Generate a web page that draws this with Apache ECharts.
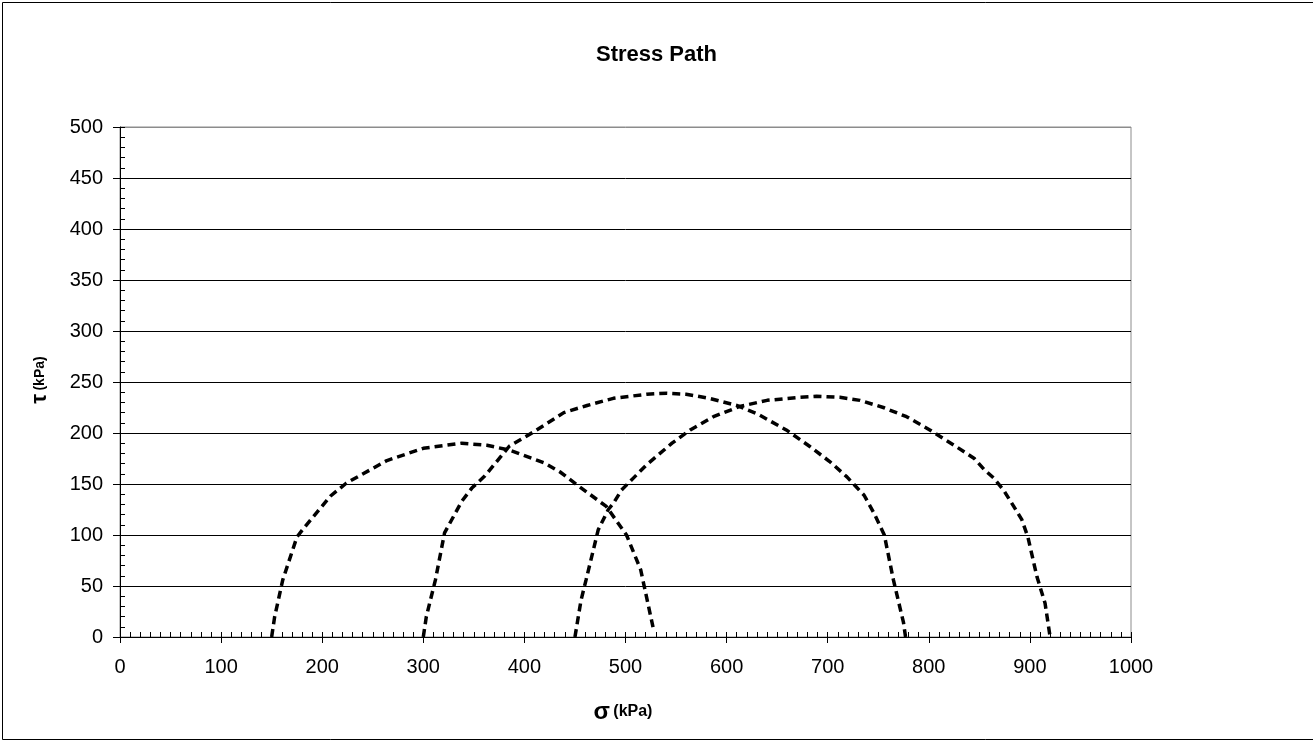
<!DOCTYPE html>
<html>
<head>
<meta charset="utf-8">
<script src="https://cdn.jsdelivr.net/npm/echarts@6/dist/echarts.min.js"></script>
<style>
html,body{margin:0;padding:0;background:#fff;}
#chart{width:1313px;height:740px;}
</style>
</head>
<body>
<div id="chart"></div>
<script>
// ---- data ----
const titleText = 'Stress Path';
const xTicks = [0, 100, 200, 300, 400, 500, 600, 700, 800, 900, 1000];
const yTicks = [0, 50, 100, 150, 200, 250, 300, 350, 400, 450, 500];

const circle1 = [[150,0],[153,20],[161,56],[175,98],[182,107],[208,138],[224,151],[264,173],[300,185],[338,190],[363,188],[386,183],[419,171],[435,162],[455,147],[481,128],[501,100],[515,66],[528,6]];
const circle2 = [[300,0],[303,20],[312,56],[321,102],[338,133],[348,146],[361,158],[385,187],[409,201],[439,220],[462,227],[488,234],[521,238],[541,239],[560,238],[583,234],[610,227],[630,219],[659,203],[682,187],[702,172],[719,157],[736,139],[746,121],[756,100],[765,56],[775,14],[777,0]];
const circle3 = [[450,0],[456,36],[461,56],[473,105],[483,125],[488,131],[496,144],[508,156],[521,169],[546,190],[564,203],[587,216],[613,226],[640,232],[672,235],[689,236],[712,235],[732,232],[755,225],[778,216],[801,203],[825,188],[845,175],[855,164],[864,156],[874,144],[884,128],[892,115],[898,98],[907,59],[915,33],[920,0]];

const FONT = '"Liberation Sans", Arial, sans-serif';
const chart = echarts.init(document.getElementById('chart'), null, {renderer: 'canvas'});

const splitColors = yTicks.map((v, i) => i === yTicks.length - 1 ? '#8c8c8c' : '#000');

function lineSeries(data) {
  return {
    type: 'line', data: data, xAxisIndex: 0, yAxisIndex: 0,
    showSymbol: false, symbol: 'none', smooth: false, silent: true,
    lineStyle: {color: '#000', width: 3.5, type: [8, 5], cap: 'butt'}
  };
}

chart.setOption({
  backgroundColor: '#fff',
  animation: false,
  title: {
    text: titleText, left: 'center', top: 39,
    textStyle: {fontFamily: FONT, fontSize: 22, fontWeight: 'bold', color: '#000'}
  },
  grid: {left: 120, right: 182, top: 127, bottom: 103, show: true, borderColor: '#8c8c8c', borderWidth: 1, backgroundColor: 'transparent'},
  xAxis: [{
    type: 'value', min: xTicks[0], max: xTicks[xTicks.length - 1], interval: 100,
    axisLine: {show: true, onZero: false, lineStyle: {color: '#000', width: 1}},
    axisTick: {show: true, inside: false, length: 6, lineStyle: {color: '#000'}},
    axisLabel: {fontFamily: FONT, fontSize: 20, color: '#000', margin: 20, formatter: v => String(v)},
    splitLine: {show: false}
  }, {
    type: 'value', min: xTicks[0], max: xTicks[xTicks.length - 1], interval: 10, position: 'bottom',
    axisLine: {show: false, onZero: false},
    axisTick: {show: true, inside: true, length: 5, lineStyle: {color: '#000'}},
    axisLabel: {show: false}, splitLine: {show: false}
  }],
  yAxis: [{
    type: 'value', min: yTicks[0], max: yTicks[yTicks.length - 1], interval: 50,
    axisLine: {show: true, onZero: false, lineStyle: {color: '#000', width: 1}},
    axisTick: {show: true, inside: false, length: 7, lineStyle: {color: '#000'}},
    axisLabel: {fontFamily: FONT, fontSize: 20, color: '#000', margin: 17, formatter: v => String(v)},
    splitLine: {show: true, lineStyle: {color: splitColors, width: 1}}
  }, {
    type: 'value', min: yTicks[0], max: yTicks[yTicks.length - 1], interval: 10, position: 'left',
    axisLine: {show: false, onZero: false},
    axisTick: {show: true, inside: true, length: 5, lineStyle: {color: '#000'}},
    axisLabel: {show: false}, splitLine: {show: false}
  }],
  graphic: [
    {type: 'rect', left: 0, top: 0, z: 100, silent: true,
     shape: {x: 0, y: 0, width: 1311, height: 737},
     position: [0.5, 0.5],
     style: {fill: 'none', stroke: '#000', lineWidth: 1}},
    {type: 'text', x: 623, y: 712, silent: true,
     style: {text: '{s|σ} {k|(kPa)}', align: 'center', verticalAlign: 'middle',
       rich: {s: {fontFamily: FONT, fontSize: 24, fontWeight: 'bold', fill: '#000', color: '#000'},
              k: {fontFamily: FONT, fontSize: 16, fontWeight: 'bold', fill: '#000', color: '#000'}}}},
    {type: 'text', x: 40, y: 380, rotation: Math.PI / 2, silent: true,
     style: {text: '{s|τ} {k|(kPa)}', align: 'center', verticalAlign: 'middle',
       rich: {s: {fontFamily: FONT, fontSize: 22, fontWeight: 'bold', fill: '#000', color: '#000'},
              k: {fontFamily: FONT, fontSize: 14, fontWeight: 'bold', fill: '#000', color: '#000'}}}}
  ],
  series: [lineSeries(circle1), lineSeries(circle2), lineSeries(circle3)]
});
</script>
</body>
</html>
